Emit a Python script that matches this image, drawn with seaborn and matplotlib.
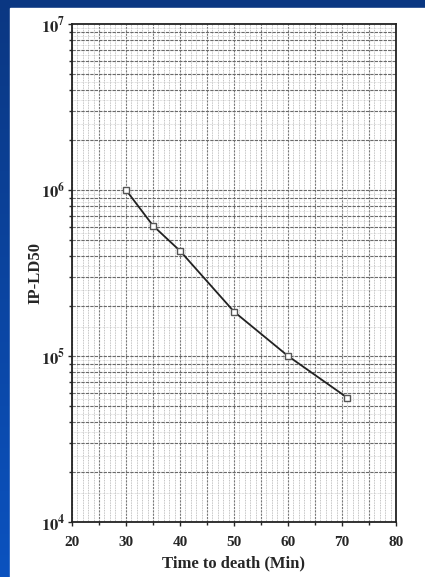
import numpy as np
import pandas as pd
import matplotlib
matplotlib.use("Agg")
import matplotlib.pyplot as plt
import matplotlib.ticker as mticker
from matplotlib.patches import Rectangle
import seaborn as sns

# values
time_min = [30, 35, 40, 50, 60, 71]
ip_ld50 = [1.0e6, 6.1e5, 4.3e5, 1.85e5, 1.0e5, 5.6e4]
x_ticks = [20, 30, 40, 50, 60, 70, 80]
y_ticks = [1e4, 1e5, 1e6, 1e7]

df = pd.DataFrame({"time": time_min, "ld50": ip_ld50})

sns.set_style("ticks")
plt.rcParams["font.family"] = ["Liberation Serif", "DejaVu Serif"]
plt.rcParams["mathtext.fontset"] = "stix"

fig = plt.figure(figsize=(4.25, 5.77), dpi=100)

# blue slide background with white panel
bg = fig.add_axes([0, 0, 1, 1], zorder=-10)
grad = np.linspace(0, 1, 256).reshape(-1, 1)
cmap = matplotlib.colors.LinearSegmentedColormap.from_list("bl", ["#0a3782", "#0b52bf"])
bg.imshow(grad, aspect="auto", cmap=cmap, extent=[0, 1, 0, 1], origin="upper")
bg.add_patch(Rectangle((10 / 425, 0), 1, 1 - 8 / 577, color="white", transform=bg.transAxes))
bg.set_xlim(0, 1)
bg.set_ylim(0, 1)
bg.axis("off")

ax = fig.add_axes([72 / 425, 55 / 577, 324 / 425, 498 / 577])
ax.set_facecolor("white")

sns.lineplot(data=df, x="time", y="ld50", ax=ax, color="#222222", linewidth=1.3,
             marker="s", markersize=4, markerfacecolor="white",
             markeredgecolor="#555555", markeredgewidth=1.0)

ax.set_yscale("log")
ax.set_xlim(20, 80)
ax.set_ylim(1e4, 1e7)

# graph-paper grid
for xv in np.arange(20, 81, 1):
    lw, c, ls = (0.6, "#b0b0b0", (0, (1, 1)))
    if xv % 5 == 0:
        lw, c, ls = (0.8, "#7a7a7a", (0, (2, 1)))
    ax.axvline(xv, color=c, linewidth=lw, linestyle=ls, zorder=0)
for dec in [1e4, 1e5, 1e6]:
    for m in np.arange(1.0, 10.0, 0.5):
        yv = dec * m
        if m == int(m):
            ax.axhline(yv, color="#6a6a6a", linewidth=0.8, linestyle=(0, (3, 1)), zorder=0)
        else:
            ax.axhline(yv, color="#c4c4c4", linewidth=0.5, linestyle=(0, (1, 1)), zorder=0)

ax.set_xticks(x_ticks)
ax.set_xticklabels([str(v) for v in x_ticks], fontsize=11, fontweight="bold")
ax.set_yticks(y_ticks)
ax.set_yticklabels([r"$\mathbf{10^{%d}}$" % int(np.log10(v)) for v in y_ticks], fontsize=12)
ax.yaxis.set_minor_locator(mticker.LogLocator(base=10, subs=np.arange(2, 10)))
ax.yaxis.set_minor_formatter(mticker.NullFormatter())
ax.xaxis.set_minor_locator(mticker.MultipleLocator(5))
ax.tick_params(axis="x", which="major", direction="out", length=3, width=1, pad=7)
ax.tick_params(axis="y", which="major", direction="out", length=3, width=1, pad=2)
ax.tick_params(axis="both", which="minor", direction="out", length=2, width=1)

for sp in ax.spines.values():
    sp.set_visible(True)
    sp.set_color("#222222")
    sp.set_linewidth(1.3)

ax.set_xlabel("Time to death (Min)", fontsize=12, fontweight="bold", labelpad=5)
ax.set_ylabel("IP-LD50", fontsize=12, fontweight="bold", labelpad=-2)

fig.savefig("out.png", dpi=100)
